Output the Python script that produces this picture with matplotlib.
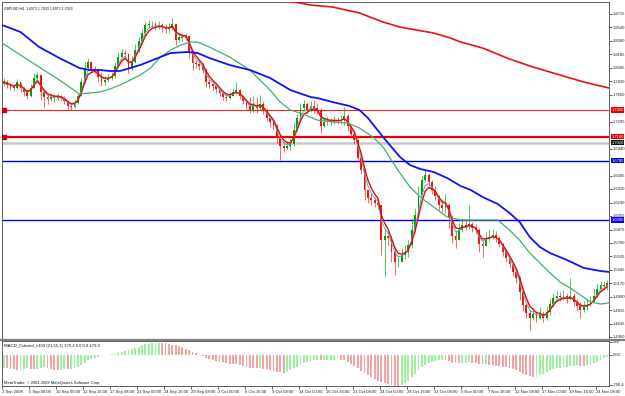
import numpy as np
import matplotlib
matplotlib.use("Agg")
import matplotlib.pyplot as plt
from matplotlib.lines import Line2D

# ---------------- data (GBPUSD H4, one candle per 2 H4 bars) ----------------
first_open = 1.7792
closes = [1.7819, 1.7779, 1.7753, 1.7740, 1.7819, 1.7740, 1.7687, 1.7634, 1.7740, 1.7872,
          1.7911, 1.7687, 1.7621, 1.7595, 1.7621, 1.7608, 1.7634, 1.7608, 1.7569, 1.7503,
          1.7490, 1.7542, 1.7634, 1.7819, 1.8003, 1.8082, 1.7990, 1.7977, 1.7885, 1.7819,
          1.7845, 1.7872, 1.7898, 1.8030, 1.8148, 1.8201, 1.8188, 1.8003, 1.8082, 1.8240,
          1.8359, 1.8464, 1.8570, 1.8583, 1.8583, 1.8557, 1.8570, 1.8543, 1.8517, 1.8530,
          1.8583, 1.8372, 1.8412, 1.8398, 1.8425, 1.8214, 1.8069, 1.8056, 1.8030, 1.7977,
          1.7819, 1.7792, 1.7766, 1.7727, 1.7674, 1.7621, 1.7608, 1.7634, 1.7687, 1.7713,
          1.7634, 1.7569, 1.7503, 1.7450, 1.7516, 1.7476, 1.7529, 1.7450, 1.7345, 1.7292,
          1.7239, 1.7081, 1.6976, 1.6949, 1.6976, 1.7002, 1.7187, 1.7345, 1.7476, 1.7529,
          1.7450, 1.7503, 1.7476, 1.7450, 1.7239, 1.7292, 1.7305, 1.7292, 1.7318, 1.7305,
          1.7318, 1.7371, 1.7239, 1.7134, 1.7055, 1.6818, 1.6660, 1.6396, 1.6291, 1.6264,
          1.6225, 1.6199, 1.5737, 1.5790, 1.5764, 1.5579, 1.5448, 1.5448, 1.5540, 1.5579,
          1.5672, 1.5869, 1.6067, 1.6330, 1.6528, 1.6594, 1.6501, 1.6396, 1.6317, 1.6199,
          1.6159, 1.6199, 1.6027, 1.5790, 1.5737, 1.5869, 1.5935, 1.5922, 1.5948, 1.5896,
          1.5869, 1.5685, 1.5658, 1.5764, 1.5777, 1.5803, 1.5764, 1.5685, 1.5579, 1.5500,
          1.5421, 1.5316, 1.5237, 1.5052, 1.4881, 1.4776, 1.4710, 1.4763, 1.4710, 1.4763,
          1.4710, 1.4789, 1.4894, 1.4974, 1.5000, 1.4987, 1.5000, 1.4961, 1.5000, 1.4921,
          1.4868, 1.4815, 1.4855, 1.4881, 1.4921, 1.5000, 1.5092, 1.5145, 1.5132, 1.5171]
highs = [1.7872, 1.7845, 1.7806, 1.7792, 1.7858, 1.7819, 1.7753, 1.7727, 1.7792, 1.7937,
         1.7951, 1.7924, 1.7713, 1.7661, 1.7674, 1.7661, 1.7674, 1.7648, 1.7634, 1.7569,
         1.7542, 1.7595, 1.7674, 1.7872, 1.8082, 1.8135, 1.8069, 1.8030, 1.8003, 1.7951,
         1.7898, 1.7924, 1.7951, 1.8082, 1.8214, 1.8254, 1.8240, 1.8201, 1.8161, 1.8319,
         1.8412, 1.8517, 1.8609, 1.8636, 1.8622, 1.8609, 1.8622, 1.8596, 1.8583, 1.8596,
         1.8662, 1.8583, 1.8464, 1.8451, 1.8464, 1.8438, 1.8240, 1.8109, 1.8095, 1.8069,
         1.8003, 1.7858, 1.7819, 1.7779, 1.7740, 1.7687, 1.7661, 1.7687, 1.7740, 1.7819,
         1.7727, 1.7648, 1.7582, 1.7621, 1.7634, 1.7621, 1.7648, 1.7569, 1.7476, 1.7358,
         1.7305, 1.7266, 1.7094, 1.7028, 1.7042, 1.7068, 1.7292, 1.7397, 1.7542, 1.7582,
         1.7555, 1.7569, 1.7582, 1.7542, 1.7476, 1.7345, 1.7358, 1.7345, 1.7371, 1.7358,
         1.7384, 1.7490, 1.7397, 1.7226, 1.7160, 1.7068, 1.6844, 1.6686, 1.6396, 1.6357,
         1.6304, 1.6264, 1.6199, 1.5896, 1.5843, 1.5790, 1.5632, 1.5540, 1.5632, 1.5672,
         1.5737, 1.6027, 1.6159, 1.6449, 1.6581, 1.6660, 1.6620, 1.6528, 1.6449, 1.6330,
         1.6264, 1.6343, 1.6225, 1.6067, 1.5869, 1.5962, 1.6027, 1.6014, 1.6199, 1.5975,
         1.5948, 1.5896, 1.5737, 1.5843, 1.5869, 1.5882, 1.5856, 1.5790, 1.5698, 1.5606,
         1.5514, 1.5434, 1.5342, 1.5263, 1.5066, 1.4908, 1.4815, 1.4842, 1.4789, 1.4855,
         1.4802, 1.4868, 1.4974, 1.5039, 1.5066, 1.5052, 1.5079, 1.5039, 1.5237, 1.5039,
         1.4961, 1.4921, 1.4934, 1.4961, 1.5000, 1.5092, 1.5158, 1.5197, 1.5197, 1.5211]
lows = [1.7766, 1.7740, 1.7713, 1.7700, 1.7727, 1.7687, 1.7634, 1.7595, 1.7621, 1.7740,
        1.7845, 1.7582, 1.7476, 1.7529, 1.7569, 1.7555, 1.7582, 1.7569, 1.7529, 1.7463,
        1.7450, 1.7476, 1.7529, 1.7634, 1.7806, 1.7977, 1.7951, 1.7937, 1.7819, 1.7766,
        1.7779, 1.7819, 1.7845, 1.7872, 1.8016, 1.8135, 1.8148, 1.7937, 1.7977, 1.8069,
        1.8214, 1.8319, 1.8438, 1.8530, 1.8530, 1.8504, 1.8517, 1.8477, 1.8464, 1.8464,
        1.8504, 1.8306, 1.8346, 1.8359, 1.8372, 1.8135, 1.7977, 1.8003, 1.7977, 1.7937,
        1.7753, 1.7740, 1.7713, 1.7674, 1.7634, 1.7582, 1.7569, 1.7595, 1.7634, 1.7661,
        1.7595, 1.7529, 1.7463, 1.7410, 1.7424, 1.7410, 1.7450, 1.7397, 1.7305, 1.7226,
        1.7187, 1.7015, 1.6791, 1.6897, 1.6923, 1.6923, 1.6976, 1.7173, 1.7318, 1.7450,
        1.7410, 1.7424, 1.7410, 1.7397, 1.7147, 1.7226, 1.7252, 1.7252, 1.7266, 1.7266,
        1.7266, 1.7252, 1.7173, 1.7081, 1.7002, 1.6765, 1.6607, 1.6264, 1.6225, 1.6199,
        1.6172, 1.6146, 1.5540, 1.5250, 1.5672, 1.5448, 1.5277, 1.5382, 1.5448, 1.5487,
        1.5514, 1.5632, 1.5843, 1.6027, 1.6304, 1.6501, 1.6449, 1.6343, 1.6264, 1.6133,
        1.6106, 1.6093, 1.5896, 1.5698, 1.5632, 1.5764, 1.5843, 1.5869, 1.5882, 1.5843,
        1.5817, 1.5579, 1.5514, 1.5672, 1.5724, 1.5751, 1.5711, 1.5645, 1.5527, 1.5448,
        1.5369, 1.5263, 1.5171, 1.4947, 1.4802, 1.4710, 1.4552, 1.4684, 1.4657, 1.4697,
        1.4657, 1.4684, 1.4749, 1.4855, 1.4934, 1.4934, 1.4947, 1.4908, 1.4947, 1.4868,
        1.4802, 1.4710, 1.4789, 1.4815, 1.4868, 1.4947, 1.4987, 1.5066, 1.5079, 1.5079]

macd_hist = [-124, -128, -132, -136, -143, -140, -134, -128, -132, -136,
             -130, -124, -118, -124, -132, -140, -145, -140, -136, -138,
             -134, -124, -110, -92, -72, -52, -38, -26, -16, -10,
             -4, 2, 6, 12, 20, 28, 36, 44, 56, 68,
             80, 92, 102, 108, 112, 115, 116, 114, 110, 106,
             100, 92, 84, 74, 62, 46, 32, 18, 4, -10,
             -24, -36, -46, -56, -64, -70, -76, -82, -86, -90,
             -98, -106, -114, -120, -124, -128, -126, -130, -138, -146,
             -152, -160, -166, -168, -160, -146, -128, -110, -92, -76,
             -64, -56, -50, -48, -52, -50, -48, -46, -44, -42,
             -44, -52, -66, -84, -104, -128, -152, -176, -196, -214,
             -230, -244, -258, -268, -276, -284, -292, -296, -286, -268,
             -246, -214, -180, -146, -118, -96, -80, -66, -56, -48,
             -44, -50, -62, -72, -76, -78, -74, -72, -70, -74,
             -80, -86, -90, -88, -94, -100, -104, -108, -112, -118,
             -124, -132, -146, -162, -178, -192, -204, -212, -206, -194,
             -178, -162, -148, -136, -128, -122, -116, -112, -108, -104,
             -100, -102, -104, -100, -92, -80, -64, -48, -32, -18]

# slow moving averages, sampled at H4 bar numbers
blue_ma_bars = [0, 11, 22, 34, 46, 52, 58, 64, 70, 76, 82, 88, 100, 110, 116, 123, 135, 147,
                159, 171, 183, 187, 196, 206, 212, 217, 226, 236, 242, 248, 256, 264, 272,
                278, 285, 294, 301, 307, 313, 319, 325, 335, 345, 355, 360]
blue_ma = [1.8570, 1.8477, 1.8280, 1.8135, 1.8003, 1.7977, 1.7977, 1.7964, 1.7964, 1.8003,
           1.8043, 1.8095, 1.8201, 1.8214, 1.8201, 1.8135, 1.8043, 1.7977, 1.7872, 1.7713,
           1.7621, 1.7608, 1.7555, 1.7503, 1.7450, 1.7345, 1.7094, 1.6831, 1.6725, 1.6673,
           1.6633, 1.6554, 1.6449, 1.6396, 1.6304, 1.6212, 1.6093, 1.5975, 1.5777, 1.5645,
           1.5566, 1.5474, 1.5369, 1.5329, 1.5316]
green_ma_bars = [0, 11, 22, 34, 40, 46, 52, 58, 64, 70, 76, 82, 88, 94, 100, 106, 112, 116,
                 123, 135, 147, 153, 159, 165, 171, 177, 187, 196, 205, 212, 220, 226, 232,
                 236, 242, 248, 256, 264, 272, 276, 285, 294, 301, 307, 313, 319, 325, 331,
                 337, 343, 349, 355, 360]
green_ma = [1.8333, 1.8175, 1.8016, 1.7845, 1.7753, 1.7661, 1.7674, 1.7687, 1.7727, 1.7779,
            1.7845, 1.7911, 1.8003, 1.8148, 1.8240, 1.8306, 1.8346, 1.8346, 1.8280, 1.8148,
            1.7977, 1.7845, 1.7713, 1.7555, 1.7450, 1.7410, 1.7318, 1.7292, 1.7279, 1.7213,
            1.7094, 1.6963, 1.6752, 1.6620, 1.6436, 1.6304, 1.6172, 1.6040, 1.6001, 1.6001,
            1.6001, 1.6001, 1.5869, 1.5737, 1.5566, 1.5434, 1.5303, 1.5184, 1.5105, 1.5013,
            1.4921, 1.4894, 1.4908]
red_ma_bars = [164, 177, 183, 196, 212, 226, 236, 256, 266, 272, 285, 301, 315, 331, 345, 360]
red_ma = [1.8899, 1.8859, 1.8833, 1.8807, 1.8728, 1.8609, 1.8543, 1.8464, 1.8398, 1.8346,
          1.8267, 1.8122, 1.8016, 1.7911, 1.7819, 1.7740]

# horizontal levels
level_red_thin = 1.7450
level_red_thick = 1.7100
level_bid = 1.7020
level_navy = 1.6780
level_blue = 1.6000

time_labels = ["2 Sep 2008", "5 Sep 08:00", "10 Sep 00:00", "12 Sep 16:00", "17 Sep 08:00",
               "22 Sep 00:00", "24 Sep 16:00", "29 Sep 08:00", "2 Oct 00:00", "6 Oct 16:00",
               "9 Oct 08:00", "14 Oct 00:00", "16 Oct 16:00", "21 Oct 08:00", "24 Oct 00:00",
               "28 Oct 16:00", "31 Oct 08:00", "5 Nov 00:00", "7 Nov 16:00", "12 Nov 08:00",
               "17 Nov 00:00", "19 Nov 16:00", "24 Nov 08:00"]
price_labels = ["1.4460", "1.4635", "1.4815", "1.4990", "1.5170", "1.5345", "1.5525",
                "1.5700", "1.5875", "1.6055", "1.6230", "1.6410", "1.6585", "1.6940",
                "1.7295", "1.7650", "1.7830", "1.8005", "1.8185", "1.8360", "1.8540", "1.8715"]

header = "GBPUSD,H4  1.6973 1.7033 1.6973 1.7033"
macd_title = "MACD_Colored_v103 (21,55,1) 179.2 0.0 0.0 179.2"
copyright_txt = "MetaTrader, \u00a9 2001-2009 MetaQuotes Software Corp."

plt.rcParams["font.family"] = ["Liberation Sans", "DejaVu Sans"]

# ---------------- figure ----------------
W, H = 625, 396
fig = plt.figure(figsize=(W / 100, H / 100), dpi=100)
fig.patch.set_facecolor("white")


def rect(l, t, r, b):
    return [l / W, 1 - b / H, (r - l) / W, (b - t) / H]


ax = fig.add_axes(rect(2, 2, 609, 339))
axm = fig.add_axes(rect(2, 341, 609, 386), sharex=ax)

n = len(closes)
xs = np.arange(n) * 2 + 1.0
c = np.array(closes)
o = np.array([first_open] + closes[:-1])
h = np.maximum(np.array(highs), np.maximum(o, c))
lo = np.minimum(np.array(lows), np.minimum(o, c))
up = c >= o
col = np.where(up, "#00a000", "#ff1010")

# horizontal levels (behind candles)
ax.axhline(level_bid, color="#c8c8c8", lw=1.8, zorder=1)
ax.axhline(level_red_thin, color="#ff2020", lw=0.8, zorder=1)
ax.axhline(level_red_thick, color="#ee0000", lw=1.6, zorder=1)
ax.axhline(level_navy, color="#0000cc", lw=1.0, zorder=1)
ax.axhline(level_blue, color="#0000ff", lw=1.0, zorder=1)
ax.plot([1.0, 1.0], [level_red_thin, level_red_thick], ls="none", marker="s",
        ms=2.5, color="#cc0000", zorder=5)

# candles
ax.vlines(xs, lo, h, colors=col, lw=0.6, zorder=3, alpha=0.75)
body_h = np.maximum(np.abs(c - o), 0.0004)
ax.bar(xs, body_h, bottom=np.minimum(o, c), width=1.1, color=col, zorder=4, lw=0)


def ema(vals, span):
    a = 2.0 / (span + 1)
    out, e = [], vals[0]
    for v in vals:
        e = a * v + (1 - a) * e
        out.append(e)
    return np.array(out)


ax.plot(xs, ema(closes, 3), color="#20c8c8", lw=0.7, zorder=5)
ax.plot(xs, ema(closes, 4), color="#ff0000", lw=1.0, zorder=6)
ax.plot(green_ma_bars, green_ma, color="#40b070", lw=0.9, zorder=6)
ax.plot(blue_ma_bars, blue_ma, color="#1010ff", lw=1.3, zorder=6)
ax.plot(red_ma_bars, red_ma, color="#ee1010", lw=1.2, zorder=6)

ax.set_xlim(0, 360)
ax.set_ylim(1.4433, 1.8873)
ax.yaxis.tick_right()
ax.set_yticks([float(s) for s in price_labels])
ax.set_yticklabels(price_labels)
ax.tick_params(axis="y", labelsize=3.0, length=2, width=0.5, pad=1.0, colors="#222222")
ax.tick_params(axis="x", bottom=False, labelbottom=False)
for s in ax.spines.values():
    s.set_color("#606060")
    s.set_linewidth(0.7)

# coloured price boxes on the right axis
ytr = ax.get_yaxis_transform()
for lev, txt, fc in [(level_red_thin, "1.7450", "#e00000"), (level_red_thick, "1.7100", "#e00000"),
                     (level_bid, "1.7020", "#111111"), (level_navy, "1.6780", "#0000cc"),
                     (level_blue, "1.6000", "#0000ff")]:
    ax.text(1.004, lev, txt, transform=ytr, fontsize=3.0, color="white", va="center", ha="left",
            bbox=dict(boxstyle="square,pad=0.15", fc=fc, ec="none"), clip_on=False, zorder=10)

ax.text(0.004, 0.988, header, transform=ax.transAxes, fontsize=2.5, va="top", ha="left",
        color="#111111")

# ---------------- MACD panel ----------------
mh = np.array(macd_hist, dtype=float)
rising = np.concatenate([[True], mh[1:] >= mh[:-1]])
mcol = np.where(rising, "#9ef09e", "#f5a3a3")
axm.bar(xs, mh, width=1.1, color=mcol, lw=0)
axm.set_ylim(-296.4, 133.8)
axm.yaxis.tick_right()
axm.set_yticks([125, 0, -285])
axm.set_yticklabels(["288", "0.00", "-296.4"])
axm.tick_params(axis="y", labelsize=3.0, length=2, width=0.5, pad=1.0, colors="#222222")
tick_pos = [16 * i for i in range(len(time_labels))]
axm.set_xticks(tick_pos)
axm.set_xticklabels(time_labels, ha="left")
axm.tick_params(axis="x", labelsize=3.0, length=2, width=0.5, pad=1.2, colors="#222222")
for s in axm.spines.values():
    s.set_color("#606060")
    s.set_linewidth(0.7)
axm.text(0.004, 0.93, macd_title, transform=axm.transAxes, fontsize=3.1, va="top", ha="left",
         color="#111111")
axm.text(0.004, 0.03, copyright_txt, transform=axm.transAxes, fontsize=2.9, va="bottom",
         ha="left", color="#111111")

# separator between panels
fig.add_artist(Line2D([0, 1], [1 - 340 / H, 1 - 340 / H], transform=fig.transFigure,
                      color="#808080", lw=1.6))

fig.savefig("out.png", dpi=100, facecolor="white")
